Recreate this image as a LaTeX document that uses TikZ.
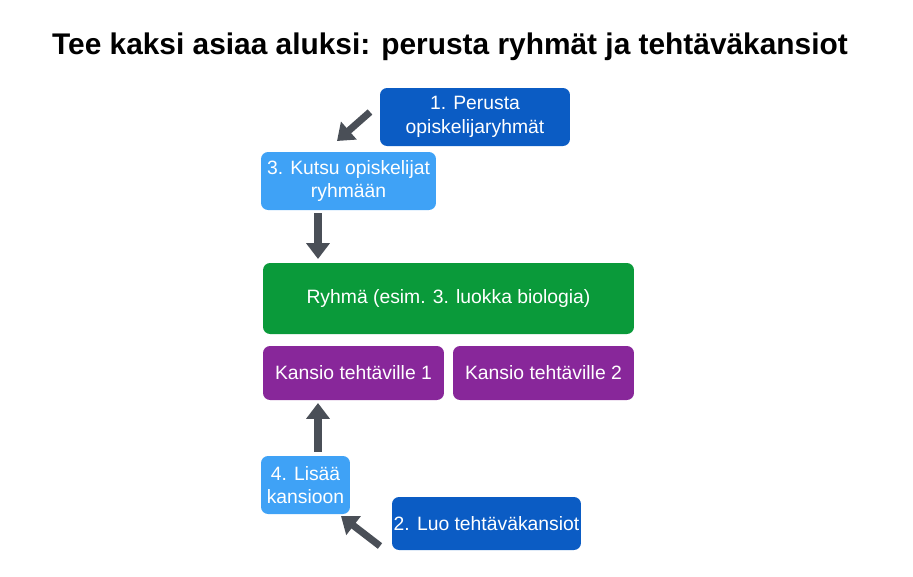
\documentclass[tikz,border=0pt]{standalone}
\usepackage{fontspec}
\setmainfont{Liberation Sans}
\usetikzlibrary{arrows.meta}
\definecolor{darkblue}{HTML}{0B5CC4}
\definecolor{lightblue}{HTML}{3FA2F6}
\definecolor{groupgreen}{HTML}{0A9A3A}
\definecolor{folderpurple}{HTML}{88279A}
\definecolor{arrowgray}{HTML}{4A4F57}
\tikzset{
  box/.style={rounded corners=4pt, text=white, align=center, inner sep=0pt, font=\fontsize{11}{13.5}\selectfont},
  stepdark/.style={box, fill=darkblue},
  steplight/.style={box, fill=lightblue},
  groupbox/.style={box, fill=groupgreen},
  folderbox/.style={box, fill=folderpurple},
  bigarrow/.style={draw=arrowgray, line width=4pt, -{Triangle[length=9pt,width=13pt]}}
}
\begin{document}
\begin{tikzpicture}[x=0.02cm,y=-0.02cm]
\useasboundingbox (0,0) rectangle (913,576);
\node (title) at (450,47) {\fontsize{17}{20}\selectfont\bfseries Tee kaksi asiaa aluksi: perusta ryhmät ja tehtäväkansiot};
\node [stepdark, minimum width=3.8cm, minimum height=1.16cm] (perusta) at (475,117) {1. Perusta\\opiskelijaryhmät};
\node [steplight, minimum width=3.5cm, minimum height=1.16cm] (kutsu) at (348.5,181) {3. Kutsu opiskelijat\\ryhmään};
\node [groupbox, minimum width=7.42cm, minimum height=1.42cm] (ryhma) at (448.5,298.5) {Ryhmä (esim. 3. luokka biologia)};
\node [folderbox, minimum width=3.62cm, minimum height=1.08cm] (kansio1) at (353.5,373) {Kansio tehtäville 1};
\node [folderbox, minimum width=3.62cm, minimum height=1.08cm] (kansio2) at (543.5,373) {Kansio tehtäville 2};
\node [steplight, minimum width=1.78cm, minimum height=1.16cm] (lisaa) at (305.5,485) {4. Lisää\\kansioon};
\node [stepdark, minimum width=3.78cm, minimum height=1.06cm] (luo) at (486.5,523.5) {2. Luo tehtäväkansiot};
\coordinate (a1s) at (370,112); \coordinate (a1e) at (337,141);
\coordinate (a4s) at (380,546); \coordinate (a4e) at (341,516);
\draw [bigarrow] (a1s) -- (a1e);
\draw [bigarrow] (kutsu.south -| 318,0) ++(0,3) -- (318,259);
\draw [bigarrow] (lisaa.north -| 318,0) ++(0,-4) -- (318,403);
\draw [bigarrow] (a4s) -- (a4e);
\end{tikzpicture}
\end{document}
